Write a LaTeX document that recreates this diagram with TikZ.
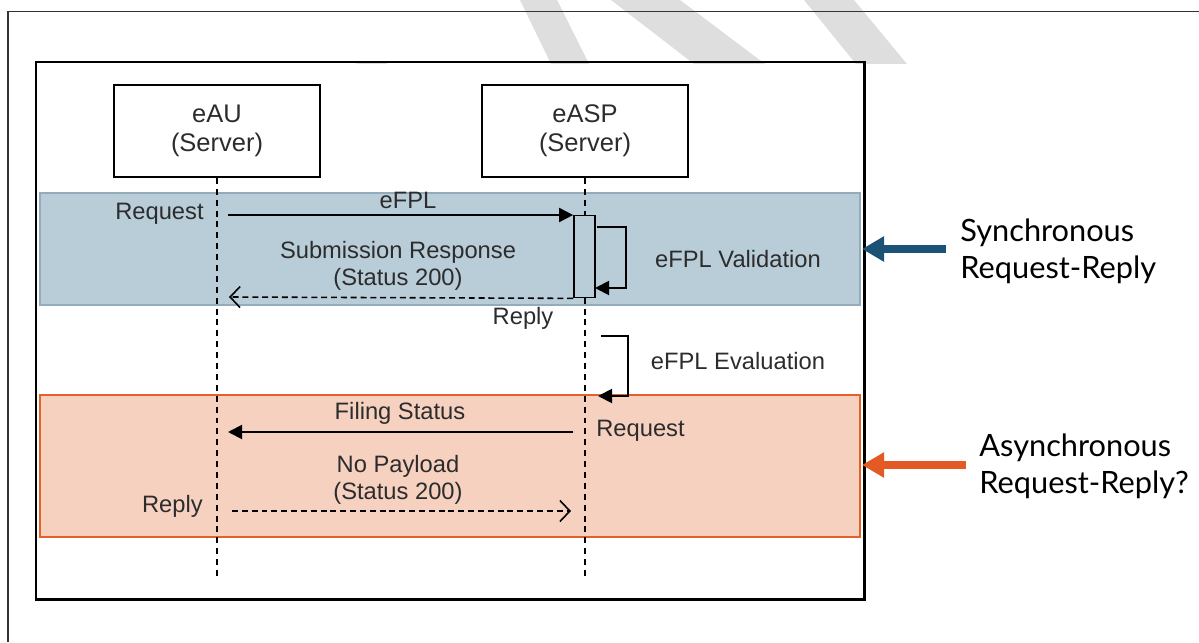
\documentclass[tikz,border=0pt]{standalone}
\usepackage{fontspec}
\setmainfont{Liberation Sans}
\newfontfamily\sidefont{Lato}
\usetikzlibrary{arrows.meta}
\usetikzlibrary{positioning}

\definecolor{syncfill}{HTML}{B9CDD9}
\definecolor{syncline}{HTML}{93ABBA}
\definecolor{syncarrow}{HTML}{1D5277}
\definecolor{asyncfill}{HTML}{F6D1C0}
\definecolor{asyncline}{HTML}{E3622B}
\definecolor{asyncarrow}{HTML}{E35A24}
\definecolor{wmgray}{HTML}{DEDEDE}
\definecolor{ink}{HTML}{2C2C2C}

\tikzset{
    actor/.style={draw, line width=1pt, minimum width=4.12cm, minimum height=1.84cm,
        align=center, font=\fontsize{14.5}{16.5}\selectfont, text=ink},
    lifeline/.style={line width=1.1pt, dash pattern=on 3.4pt off 2.8pt},
    msg/.style={line width=1.1pt, -{Triangle[length=0.28cm,width=0.28cm]}},
    reply/.style={line width=0.9pt, dash pattern=on 3.4pt off 2.2pt,
        -{Straight Barb[length=0.2cm,width=0.42cm]}},
    lbl/.style={font=\fontsize{13.5}{15}\selectfont, text=ink, align=center, inner sep=0pt},
    actbar/.style={draw, line width=1pt, fill=syncfill, minimum width=0.42cm,
        minimum height=1.64cm, inner sep=0pt},
    callout/.style={line width=4.8pt, -{Triangle[length=0.44cm,width=0.48cm]}},
    side/.style={font=\sidefont\fontsize{17.5}{21}\selectfont, align=left,
        anchor=west, inner sep=0pt, text=black}
}

\begin{document}
\begin{tikzpicture}[x=0.02cm, y=-0.02cm]
    \useasboundingbox (0,0) rectangle (1199,642);

    % watermark
    \fill[wmgray] (520,0) -- (557,0) -- (589,64) -- (551,64) -- cycle;
    \fill[wmgray] (611,0) -- (680,0) -- (765,64) -- (694,64) -- cycle;
    \fill[wmgray] (804,0) -- (854,0) -- (907,64) -- (856,64) -- cycle;
    \fill[wmgray] (355,64) .. controls (366,60) and (378,60) .. (388,64) -- cycle;

    % page frame
    \draw[line width=0.8pt, black!80] (8,642) -- (8,11.5) -- (1199,11.5);

    % bands
    \draw[syncline, fill=syncfill, line width=0.6pt] (40,193) rectangle (860,305);
    \draw[asyncline, fill=asyncfill, line width=1.1pt] (40,395) rectangle (860,537);

    \draw[line width=1.7pt] (36,62) rectangle (864,599);

    \node[actor] (eau) at (217,131) {eAU\\(Server)};
    \node[actor] (easp) at (585,131) {eASP\\(Server)};

    \coordinate (eauend) at (217,578);
    \coordinate (easpend) at (585,578);
    \draw[lifeline] (eau.south) -- (eauend);
    \draw[lifeline] (easp.south) -- (easpend);

    % synchronous part
    \node[actbar] (act) at (584.5,256.5) {};
    \coordinate (reqstart) at (228,215);
    \draw[msg] (reqstart) -- (reqstart -| act.west);
    \node[lbl] (efpl) at (408,200) {eFPL};
    \node[lbl, anchor=east] (req1) at (204,214) {Request};

    \coordinate (valA) at (597,227);
    \coordinate (valB) at (626,288);
    \coordinate (valC) at (595,288);
    \draw[msg] (valA) -| (valB) -- (valC);
    \node[lbl] (valid) at (738,259) {eFPL Validation};

    \coordinate (subend) at (229,297);
    \draw[reply] (act.south west) -- (subend);
    \node[lbl] (sub) at (398,266) {Submission Response\\(Status 200)};
    \node[lbl] (reply1) at (523,318) {Reply};

    % evaluation
    \coordinate (evA) at (601,336);
    \coordinate (evB) at (628,396);
    \coordinate (evC) at (598,396);
    \draw[msg] (evA) -| (evB) -- (evC);
    \node[lbl] (evalu) at (738,361) {eFPL Evaluation};

    % asynchronous part
    \coordinate (fsA) at (573,432);
    \coordinate (fsB) at (228,432);
    \draw[msg] (fsA) -- (fsB);
    \node[lbl] (fs) at (400,413) {Filing Status};
    \node[lbl, anchor=west] (req2) at (596,431) {Request};

    \coordinate (npA) at (232,511);
    \coordinate (npB) at (571,511);
    \draw[reply] (npA) -- (npB);
    \node[lbl] (np) at (398,480) {No Payload\\(Status 200)};
    \node[lbl, anchor=east] (reply2) at (203,506) {Reply};

    % callouts
    \node[side] (synclbl) at (960,251) {Synchronous\\Request-Reply};
    \coordinate (synctip) at (862,249);
    \draw[callout, syncarrow] ([xshift=-0.28cm]synclbl.west |- synctip) -- (synctip);

    \node[side] (asynclbl) at (979,466) {Asynchronous\\Request-Reply?};
    \coordinate (asynctip) at (862,465);
    \draw[callout, asyncarrow] ([xshift=-0.26cm]asynclbl.west |- asynctip) -- (asynctip);
\end{tikzpicture}
\end{document}
